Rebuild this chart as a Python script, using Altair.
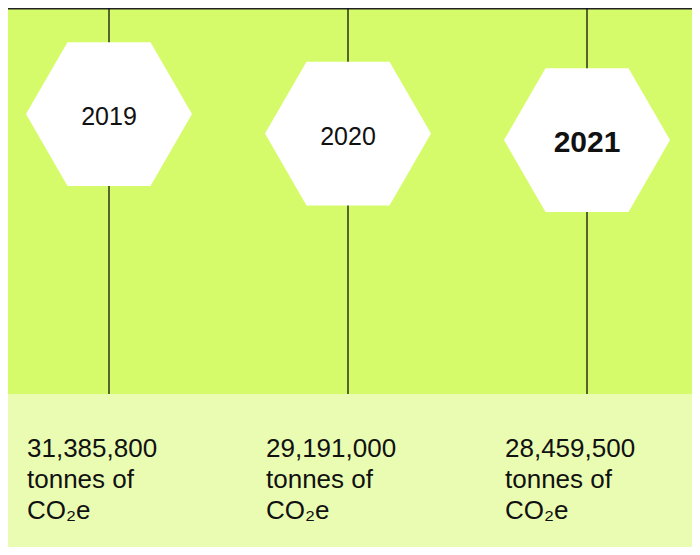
import altair as alt
import pandas as pd

# ---- data ----
years = [2019, 2020, 2021]
emissions = [31385800, 29191000, 28459500]
value_labels = ["31,385,800", "29,191,000", "28,459,500"]
unit_text = "tonnes of\nCO\u2082e"

# ---- layout / style ----
W, H = 684, 539
GREEN = "#d5fb6a"
PALE = "#e9fcb2"
FONT = "Liberation Sans"
Y_MIN, Y_MAX = -17.15e6, 43.27e6
HEX = "M-1,0 L-0.5,-0.866 L0.5,-0.866 L1,0 L0.5,0.866 L-0.5,0.866 Z"

df = pd.DataFrame({
    "year": years,
    "emissions": emissions,
    "year_label": [str(y) for y in years],
    "caption": [v + "\n" + unit_text for v in value_labels],
})

xscale = alt.Scale(domain=[2018.5774, 2021.4393], nice=False, zero=False)
yscale = alt.Scale(domain=[Y_MIN, Y_MAX], nice=False, zero=False)
X = alt.X("year:Q", scale=xscale, axis=None)
Y = alt.Y("emissions:Q", scale=yscale, axis=None)

base = alt.Chart(df)

pale = alt.Chart(pd.DataFrame({"z": [0]})).mark_rect(color=PALE).encode(
    x=alt.value(0), x2=alt.value(W),
    y=alt.Y(datum=0, scale=yscale, axis=None), y2=alt.value(H),
)

top_line = alt.Chart(pd.DataFrame({"z": [0]})).mark_rule(color="#222222", strokeWidth=1.5).encode(
    x=alt.value(0), x2=alt.value(W), y=alt.value(0.75),
)

stems = base.mark_rule(color="#111111", strokeWidth=1.3).encode(
    x=X, y=alt.Y(datum=0, scale=yscale, axis=None), y2=alt.value(0),
)

hexes = base.mark_point(shape=HEX, size=166 * 166, filled=True, fill="white",
                        opacity=1, strokeWidth=0).encode(x=X, y=Y)

latest = max(years)
year_text = base.transform_filter(alt.datum.year != latest).mark_text(
    font=FONT, fontSize=25, align="center", baseline="middle", dy=3, color="#111111"
).encode(x=X, y=Y, text="year_label:N")

year_text_bold = base.transform_filter(alt.datum.year == latest).mark_text(
    font=FONT, fontSize=30, fontWeight="bold", align="center", baseline="middle", dy=3,
    color="#111111"
).encode(x=X, y=Y, text="year_label:N")

captions = base.mark_text(
    font=FONT, fontSize=26, align="left", baseline="alphabetic", dx=-82,
    lineBreak="\n", lineHeight=31, color="#111111"
).encode(x=X, y=alt.value(449), text="caption:N")

chart = alt.layer(pale, top_line, stems, hexes, year_text, year_text_bold, captions).properties(
    width=W, height=H, background=GREEN, padding=0,
    autosize=alt.AutoSizeParams(type="none"),
).configure_view(strokeWidth=0)

chart.save("out.html", embed_options={"renderer": "svg", "actions": False})
